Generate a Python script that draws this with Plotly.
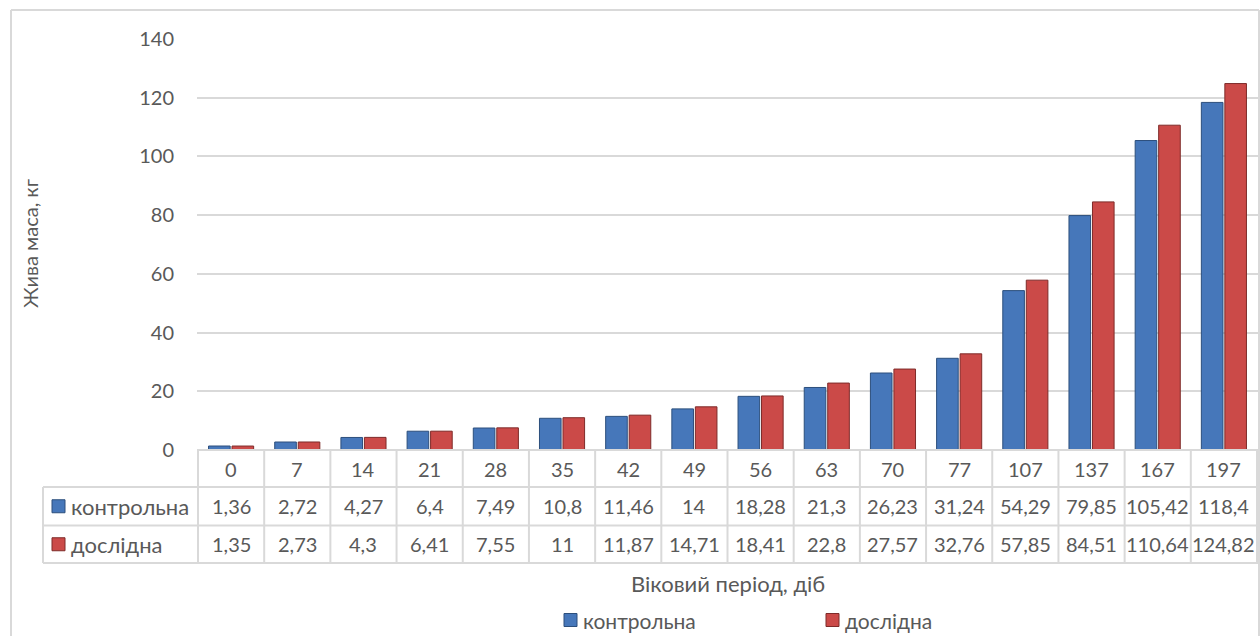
import plotly.graph_objects as go

# -----------------------------
# Daten
# -----------------------------
days = ["0", "7", "14", "21", "28", "35", "42", "49", "56", "63", "70", "77", "107", "137", "167", "197"]
kontrolna = [1.36, 2.72, 4.27, 6.4, 7.49, 10.8, 11.46, 14, 18.28, 21.3, 26.23, 31.24, 54.29, 79.85, 105.42, 118.4]
doslidna = [1.35, 2.73, 4.3, 6.41, 7.55, 11, 11.87, 14.71, 18.41, 22.8, 27.57, 32.76, 57.85, 84.51, 110.64, 124.82]
series_names = ["контрольна", "дослідна"]

BLUE = "#4677BA"
BLUE_LINE = "#2C4F7C"
RED = "#CB4A48"
RED_LINE = "#7E2B29"
TXT = "#595959"
GRID = "#D9D9D9"
FONT = "Lato"
NUM_SIZE = 20
TXT_SIZE = 22

W, H = 1260, 636
PL, PR, PT, PB = 197, 1258, 39, 450  # Plotbereich in Pixeln


def px(x):
    return (x - PL) / (PR - PL)


def py(y):
    return (PB - y) / (PB - PT)


def fmt(v):
    return f"{v:g}".replace(".", ",")


fig = go.Figure()
fig.add_trace(go.Bar(x=days, y=kontrolna, name=series_names[0],
                     marker=dict(color=BLUE, line=dict(color=BLUE_LINE, width=1))))
fig.add_trace(go.Bar(x=days, y=doslidna, name=series_names[1],
                     marker=dict(color=RED, line=dict(color=RED_LINE, width=1))))

shapes = []
annotations = []


def line(x0, y0, x1, y1, xref="paper"):
    shapes.append(dict(type="line", xref=xref, yref="paper", x0=x0, x1=x1, y0=y0, y1=y1,
                       line=dict(color=GRID, width=2)))


def key(x, yc, r, size=TXT_SIZE):
    # kleines Farbquadrat + Beschriftung (Tabelle und Legende)
    col, edge = row_cols[r]
    shapes.append(dict(type="rect", xref="paper", yref="paper", x0=px(x), x1=px(x + 13),
                       y0=py(yc + 6.5), y1=py(yc - 6.5),
                       fillcolor=col, line=dict(color=edge, width=1)))
    annotations.append(dict(x=px(x + 17), y=py(yc), xref="paper", yref="paper", xanchor="left",
                            yanchor="middle", text=series_names[r], showarrow=False,
                            font=dict(size=size, color=TXT, family=FONT)))


# -----------------------------
# Datentabelle unter dem Diagramm
# -----------------------------
row_y = [450, 487, 525.5, 563]
n = len(days)
row_vals = [kontrolna, doslidna]
row_cols = [(BLUE, BLUE_LINE), (RED, RED_LINE)]

line(0, py(row_y[0]), 1, py(row_y[0]))
for yy in row_y[1:]:
    line(px(43), py(yy), 1, py(yy))
line(px(43), py(row_y[1]), px(43), py(row_y[3]))
for k in range(n + 1):
    line(k - 0.5, py(row_y[0]), k - 0.5, py(row_y[3]), xref="x")

# Rahmen (unten abgeschnitten)
line(px(11), py(10), px(1259), py(10))
line(px(11), py(10), px(11), py(H))
line(px(1259), py(10), px(1259), py(H))

for i, d in enumerate(days):
    annotations.append(dict(x=i, y=py((row_y[0] + row_y[1]) / 2), xref="x", yref="paper",
                            yanchor="middle", text=d, showarrow=False,
                            font=dict(size=NUM_SIZE, color=TXT, family=FONT)))
    for r in range(2):
        annotations.append(dict(x=i, y=py((row_y[r + 1] + row_y[r + 2]) / 2), xref="x", yref="paper",
                                yanchor="middle", text=fmt(row_vals[r][i]), showarrow=False,
                                font=dict(size=NUM_SIZE, color=TXT, family=FONT)))

for r in range(2):
    key(52, (row_y[r + 1] + row_y[r + 2]) / 2, r)

# Legende
key(564, 620, 0, size=21)
key(826, 620, 1, size=21)

# Achsentitel
annotations.append(dict(x=px(30), y=py(244), xref="paper", yref="paper", xanchor="center",
                        yanchor="middle", text="Жива маса, кг", textangle=-90, showarrow=False,
                        font=dict(size=20, color=TXT, family=FONT)))
annotations.append(dict(x=0.5, y=py(583), xref="paper", yref="paper", xanchor="center",
                        yanchor="middle", text="Віковий період, діб", showarrow=False,
                        font=dict(size=TXT_SIZE, color=TXT, family=FONT)))

fig.update_layout(
    width=W, height=H,
    margin=dict(l=PL, r=W - PR, t=PT, b=H - PB),
    paper_bgcolor="white", plot_bgcolor="white",
    barmode="group", bargap=0.29, bargroupgap=0.08,
    font=dict(family=FONT, size=NUM_SIZE, color=TXT),
    shapes=shapes, annotations=annotations,
    showlegend=False,
)
fig.update_xaxes(showticklabels=False, showgrid=False, zeroline=False, showline=False)
fig.update_yaxes(range=[0, 140], dtick=20, showgrid=True, gridcolor=GRID, gridwidth=1.5,
                 zeroline=False, showline=False, ticks="", ticklabelstandoff=22,
                 tickfont=dict(size=NUM_SIZE, color=TXT, family=FONT))

# Seitenrand entfernen, damit die Grafik bei (0,0) beginnt
fig.write_html("out.html", config={"displayModeBar": False},
               post_script="document.body.style.margin='0';")
